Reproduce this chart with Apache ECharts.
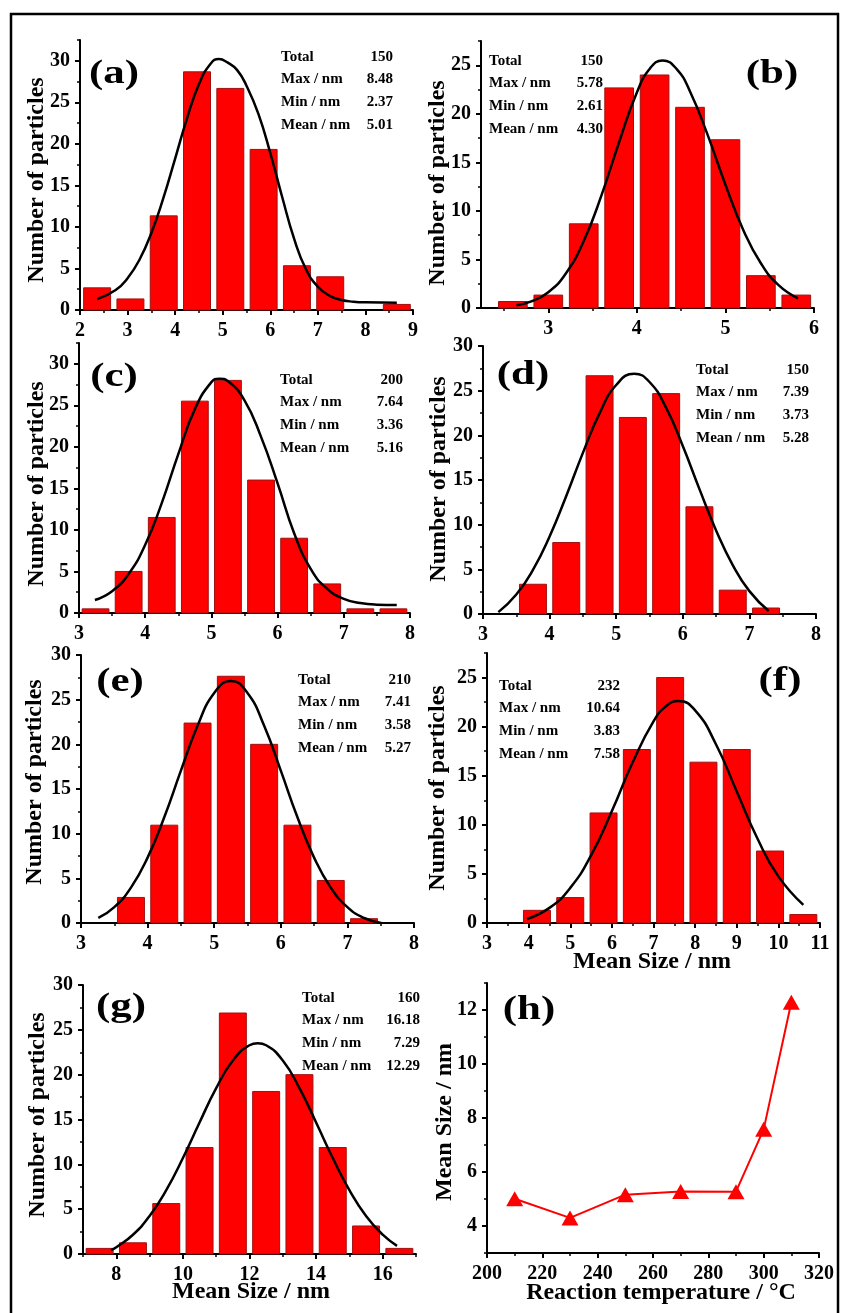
<!DOCTYPE html>
<html>
<head>
<meta charset="utf-8">
<script src="https://cdn.jsdelivr.net/npm/echarts@6/dist/echarts.min.js"></script>
<style>
  html, body { margin: 0; padding: 0; background: #fff; }
  #chart { width: 841px; height: 1313px; }
</style>
</head>
<body>
<div id="chart"></div>
<script>
// ---------- histogram bins: centre of each size bin (nm) and bar height ----------
const binsA = [2.36, 3.06, 3.76, 4.46, 5.16, 5.86, 6.56, 7.26, 8.66];
const countsA = [2.67, 1.33, 11.33, 28.67, 26.67, 19.33, 5.33, 4.00, 0.67];

const binsB = [2.6, 3.0, 3.4, 3.8, 4.2, 4.6, 5.0, 5.4, 5.8];
const countsB = [0.67, 1.33, 8.67, 22.67, 24.00, 20.67, 17.33, 3.33, 1.33];

const binsC = [3.25, 3.75, 4.25, 4.75, 5.25, 5.75, 6.25, 6.75, 7.25, 7.75];
const countsC = [0.5, 5.0, 11.5, 25.5, 28.0, 16.0, 9.0, 3.5, 0.5, 0.5];

const binsD = [3.75, 4.25, 4.75, 5.25, 5.75, 6.25, 6.75, 7.25];
const countsD = [3.33, 8.00, 26.67, 22.00, 24.67, 12.00, 2.67, 0.67];

const binsE = [3.75, 4.25, 4.75, 5.25, 5.75, 6.25, 6.75, 7.25];
const countsE = [2.86, 10.95, 22.38, 27.62, 20.00, 10.95, 4.76, 0.48];

const binsF = [4.2, 5.0, 5.8, 6.6, 7.4, 8.2, 9.0, 9.8, 10.6];
const countsF = [1.29, 2.59, 11.21, 17.67, 25.00, 16.38, 17.67, 7.33, 0.86];

const binsG = [7.5, 8.5, 9.5, 10.5, 11.5, 12.5, 13.5, 14.5, 15.5, 16.5];
const countsG = [0.625, 1.25, 5.625, 11.875, 26.875, 18.125, 20.0, 11.875, 3.125, 0.625];

// bin widths (nm) of each histogram
const binWidths = [0.7, 0.4, 0.5, 0.5, 0.5, 0.8, 1.0];

// ---------- Gaussian fit curves, sampled as [size, height] ----------
const fitA = [[2.36,1.31],[2.75,2.41],[3.0,3.82],[3.25,6.05],[3.5,9.27],[3.75,13.43],[4.0,18.23],[4.25,23.08],[4.5,27.17],[4.75,29.68],[4.92,30.2],[5.1,29.8],[5.3,28.9],[5.5,27.0],[5.75,23.6],[6.0,18.9],[6.25,13.6],[6.5,8.6],[6.75,4.9],[7.0,2.8],[7.25,1.7],[7.5,1.2],[7.75,1.0],[8.0,0.92],[8.66,0.88]];
const fitB = [[2.64,0.28],[2.8,0.65],[3.0,1.63],[3.2,3.58],[3.4,6.89],[3.6,11.6],[3.8,17.1],[4.0,22.2],[4.15,24.7],[4.29,25.5],[4.45,24.6],[4.6,22.3],[4.8,17.8],[5.0,12.7],[5.2,8.07],[5.4,4.61],[5.6,2.35],[5.82,0.99]];
const fitC = [[3.24,1.57],[3.5,2.63],[3.75,4.70],[4.0,8.21],[4.25,13.23],[4.5,19.13],[4.75,24.54],[5.0,27.79],[5.12,28.2],[5.25,27.9],[5.5,25.6],[5.75,21.2],[6.0,15.6],[6.25,9.6],[6.5,5.3],[6.75,2.9],[7.0,1.7],[7.25,1.2],[7.5,1.0],[7.8,0.95]];
const fitD = [[3.23,0.21],[3.5,2.18],[3.75,4.94],[4.0,8.68],[4.25,13.21],[4.5,18.04],[4.75,22.46],[5.0,25.63],[5.27,26.9],[5.5,25.97],[5.75,23.07],[6.0,18.80],[6.25,13.98],[6.5,9.36],[6.75,5.48],[7.0,2.56],[7.29,0.33]];
const fitE = [[3.26,0.56],[3.5,1.78],[3.75,3.96],[4.0,7.32],[4.25,11.83],[4.5,17.05],[4.75,22.07],[5.0,25.74],[5.25,27.1],[5.5,25.74],[5.75,22.07],[6.0,17.05],[6.25,11.83],[6.5,7.32],[6.75,3.96],[7.0,1.78],[7.25,0.56],[7.51,0.0]];
const fitF = [[3.96,0.41],[4.5,1.54],[5.0,3.58],[5.5,6.89],[6.0,11.40],[6.5,16.37],[7.0,20.53],[7.3,22.07],[7.6,22.6],[8.0,21.66],[8.5,18.21],[9.0,13.39],[9.5,8.58],[10.0,4.75],[10.6,1.85]];
const fitG = [[7.84,0.43],[8.0,0.75],[8.5,2.15],[9.0,4.24],[9.5,7.12],[10.0,10.70],[10.5,14.67],[11.0,18.50],[11.5,21.57],[12.0,23.28],[12.25,23.5],[12.5,23.28],[13.0,21.57],[13.5,18.50],[14.0,14.67],[14.5,10.70],[15.0,7.12],[15.5,4.24],[16.0,2.15],[16.43,0.91]];

// ---------- statistics printed in each histogram ----------
const statNames = ['Total', 'Max / nm', 'Min / nm', 'Mean / nm'];
const statsA = ['150', '8.48', '2.37', '5.01'];
const statsB = ['150', '5.78', '2.61', '4.30'];
const statsC = ['200', '7.64', '3.36', '5.16'];
const statsD = ['150', '7.39', '3.73', '5.28'];
const statsE = ['210', '7.41', '3.58', '5.27'];
const statsF = ['232', '10.64', '3.83', '7.58'];
const statsG = ['160', '16.18', '7.29', '12.29'];

// ---------- panel (h): mean size versus reaction temperature ----------
const temps = [210, 230, 250, 270, 290, 300, 310];
const meanSizes = [5.01, 4.30, 5.16, 5.28, 5.27, 7.58, 12.29];

// ---------- tick labels ----------
const xTicksA = [2, 3, 4, 5, 6, 7, 8, 9];
const xTicksB = [3, 4, 5, 6];
const xTicksCDE = [3, 4, 5, 6, 7, 8];
const xTicksF = [3, 4, 5, 6, 7, 8, 9, 10, 11];
const xTicksG = [8, 10, 12, 14, 16];
const xTicksH = [200, 220, 240, 260, 280, 300, 320];
const yTicks30 = [0, 5, 10, 15, 20, 25, 30];
const yTicks25 = [0, 5, 10, 15, 20, 25];
const yTicksH = [4, 6, 8, 10, 12];

const panelLetters = ['(a)', '(b)', '(c)', '(d)', '(e)', '(f)', '(g)', '(h)'];
const countTitle = 'Number of particles';
const sizeTitle = 'Mean Size / nm';
const tempTitle = 'Reaction temperature / °C';

// ---------- layout ----------
const FONT = '"Liberation Serif", "Times New Roman", serif';
const grids = [
  { left: 80,  top: 40,  width: 333, height: 270 },
  { left: 481, top: 41,  width: 333, height: 267 },
  { left: 79,  top: 343, width: 331, height: 270 },
  { left: 483, top: 346, width: 333, height: 268 },
  { left: 81,  top: 655, width: 333, height: 268 },
  { left: 487, top: 653, width: 333, height: 270 },
  { left: 83,  top: 985, width: 333, height: 269 },
  { left: 487, top: 983, width: 332, height: 270 }
];
const xRanges = [[2, 9], [2.24, 6], [3, 8], [3, 8], [3, 8], [3, 11], [7, 17], [200, 320]];
const yRanges = [[0, 32.5], [0, 27.5], [0, 32.5], [0, 30], [0, 30], [0, 27.5], [0, 30], [3, 13]];
const xTickSets = [xTicksA, xTicksB, xTicksCDE, xTicksCDE, xTicksCDE, xTicksF, xTicksG, xTicksH];
const yTickSets = [yTicks30, yTicks25, yTicks30, yTicks30, yTicks30, yTicks25, yTicks30, yTicksH];

const histBins = [binsA, binsB, binsC, binsD, binsE, binsF, binsG];
const histCounts = [countsA, countsB, countsC, countsD, countsE, countsF, countsG];
const fits = [fitA, fitB, fitC, fitD, fitE, fitF, fitG];
const stats = [statsA, statsB, statsC, statsD, statsE, statsF, statsG];

// minor ticks sit halfway between the labelled ones
function minorTicks(ticks, range) {
  const step = ticks[1] - ticks[0];
  const out = [];
  for (let v = ticks[0] - step / 2; v <= range[1] + 1e-9; v += step) {
    if (v >= range[0] - 1e-9) out.push(+v.toFixed(6));
  }
  return out;
}

function majorAxis(i, range, ticks, margin, position) {
  return {
    type: 'value', gridIndex: i, min: range[0], max: range[1], position: position,
    axisLine: { show: true, onZero: false, lineStyle: { color: '#000', width: 2 } },
    axisTick: { show: true, customValues: ticks, length: 5, lineStyle: { color: '#000', width: 2 } },
    axisLabel: {
      customValues: ticks, margin: margin, color: '#000',
      fontFamily: FONT, fontWeight: 'bold', fontSize: 20
    },
    splitLine: { show: false }
  };
}
function minorAxis(i, range, ticks, position) {
  return {
    type: 'value', gridIndex: i, min: range[0], max: range[1], position: position,
    axisLine: { show: false, onZero: false },
    axisTick: { show: true, customValues: minorTicks(ticks, range), length: 3, lineStyle: { color: '#000', width: 1.5 } },
    axisLabel: { show: false },
    splitLine: { show: false }
  };
}

const xAxes = grids.map((g, i) => majorAxis(i, xRanges[i], xTickSets[i], 11, 'bottom'))
  .concat(grids.map((g, i) => minorAxis(i, xRanges[i], xTickSets[i], 'bottom')));
const yAxes = grids.map((g, i) => majorAxis(i, yRanges[i], yTickSets[i], 10, 'left'))
  .concat(grids.map((g, i) => minorAxis(i, yRanges[i], yTickSets[i], 'left')));

const series = [];
histBins.forEach((bins, i) => {
  const halfBar = binWidths[i] * 0.81 / 2;
  series.push({
    type: 'custom',
    xAxisIndex: i, yAxisIndex: i,
    data: bins.map((b, k) => [b, histCounts[i][k]]),
    renderItem: function (params, api) {
      const x = api.value(0), y = api.value(1);
      const p0 = api.coord([x - halfBar, y]);
      const p1 = api.coord([x + halfBar, 0]);
      return {
        type: 'rect',
        shape: { x: p0[0], y: p0[1], width: p1[0] - p0[0], height: p1[1] - p0[1] },
        style: { fill: '#ff0000', stroke: '#a01010', lineWidth: 1 }
      };
    },
    z: 2
  });
  series.push({
    type: 'line',
    xAxisIndex: i, yAxisIndex: i,
    data: fits[i],
    smooth: true,
    symbol: 'none',
    lineStyle: { color: '#000', width: 2.5 },
    z: 3
  });
});
series.push({
  type: 'line',
  xAxisIndex: 7, yAxisIndex: 7,
  data: temps.map((t, k) => [t, meanSizes[k]]),
  symbol: 'triangle',
  symbolSize: [17, 15],
  itemStyle: { color: '#ff0000' },
  lineStyle: { color: '#ff0000', width: 2 },
  z: 3
});

// ---------- text placed in the panels ----------
function txt(x, y, text, font, align, extra) {
  return Object.assign({
    type: 'text', x: x, y: y,
    style: {
      text: text, font: font, fill: '#000',
      textAlign: align, align: align,
      textVerticalAlign: 'middle', verticalAlign: 'middle'
    },
    z: 10
  }, extra || {});
}
const letterPos = [[114, 74], [772, 74], [114, 377], [523, 375], [120, 682], [780, 681], [121, 1007], [529, 1010]];
const statPos = [
  { lx: 281, rx: 393, y: 57 },
  { lx: 489, rx: 603, y: 61 },
  { lx: 280, rx: 403, y: 380 },
  { lx: 696, rx: 809, y: 370 },
  { lx: 298, rx: 411, y: 680 },
  { lx: 499, rx: 620, y: 686 },
  { lx: 302, rx: 420, y: 998 }
];
const yTitlePos = [[37, 180], [438, 183], [37, 484], [439, 479], [35, 782], [438, 788], [38, 1115], [445, 1122]];

const graphics = [];
// outer frame
graphics.push({
  type: 'rect', shape: { x: 11, y: 14, width: 827, height: 1320 },
  style: { fill: 'none', stroke: '#000', lineWidth: 2.5 }, z: 10
});
panelLetters.forEach((s, i) => {
  graphics.push(txt(letterPos[i][0], letterPos[i][1], s, 'bold 33px ' + FONT, 'center', { scaleX: 1.3 }));
});
stats.forEach((vals, i) => {
  const p = statPos[i];
  statNames.forEach((name, r) => {
    const y = p.y + r * 22.6;
    graphics.push(txt(p.lx, y, name, 'bold 15px ' + FONT, 'left'));
    graphics.push(txt(p.rx, y, vals[r], 'bold 15px ' + FONT, 'right'));
  });
});
yTitlePos.forEach((p, i) => {
  graphics.push(txt(p[0], p[1], i === 7 ? sizeTitle : countTitle, 'bold 24px ' + FONT, 'center', { rotation: Math.PI / 2 }));
});
graphics.push(txt(652, 962, sizeTitle, 'bold 24px ' + FONT, 'center'));
graphics.push(txt(251, 1292, sizeTitle, 'bold 24px ' + FONT, 'center'));
graphics.push(txt(661, 1293, tempTitle, 'bold 24px ' + FONT, 'center'));

const chart = echarts.init(document.getElementById('chart'), null, { renderer: 'canvas' });
chart.setOption({
  animation: false,
  backgroundColor: '#fff',
  grid: grids.map(g => Object.assign({ outerBoundsMode: 'none' }, g)),
  xAxis: xAxes,
  yAxis: yAxes,
  series: series,
  graphic: { elements: graphics }
});
</script>
</body>
</html>
